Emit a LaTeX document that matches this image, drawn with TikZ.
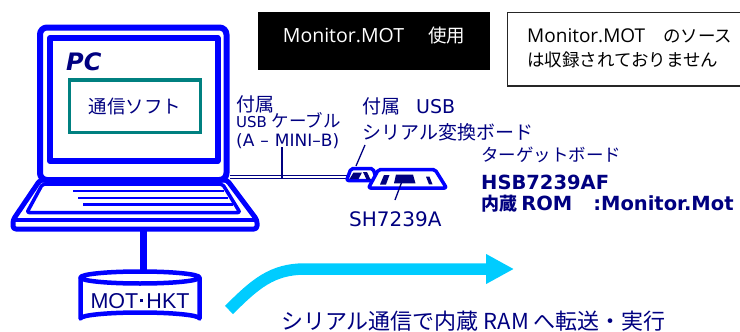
\documentclass[tikz,border=0pt]{standalone}
\usepackage{fontspec}
\usetikzlibrary{arrows.meta}
\setmainfont{DejaVu Sans}
\newfontfamily\jp{Noto Sans CJK JP}
\newfontfamily\dv{DejaVu Sans}
\newfontfamily\os{Open Sans}
\newfontfamily\ls{Liberation Sans}
\newcommand\setfs[1]{\fontsize{#1pt}{#1pt}\selectfont}

\definecolor{lapblue}{RGB}{0,0,255}
\definecolor{navy}{RGB}{0,0,128}
\definecolor{softteal}{RGB}{0,128,128}
\definecolor{flow}{RGB}{0,204,255}

\tikzset{
  frame/.style={draw=lapblue, line width=#1, line join=round},
  chip/.style={fill=navy},
  label/.style={inner sep=0pt, anchor=base west, text=navy},
  pointer/.style={draw=navy, line width=1.3},
  cable/.style={draw=navy, line width=1.3, double=white, double distance=1.8},
  flowarrow/.style={draw=flow, line width=11.5, -{Triangle[length=28pt,width=28pt]}},
}

\begin{document}
\begin{tikzpicture}[x=1pt,y=-1pt]
\useasboundingbox (0,0) rectangle (740,332);

% ---- notes at the top ----
\node[fill=black, minimum width=232pt, minimum height=58pt, anchor=north west, inner sep=0pt] (usedbox) at (258,12) {};
\node[inner sep=0pt, anchor=base, text=white] (usedtxt) at (374,42)
  {\os\setfs{19.5}Monitor.MOT\hspace{24pt}\jp\setfs{18.5}使用};
\draw[black!85, line width=1.3] (507.5,12.5) rectangle (742,86);
\node[inner sep=0pt, anchor=base west] (note1) at (527,42.5)
  {\os\setfs{19}Monitor.MOT\hspace{18pt}\jp\setfs{17.5}のソース};
\node[inner sep=0pt, anchor=base west] (note2) at (527,66)
  {\jp\setfs{17.5}は収録されておりません};

% ---- laptop ----
\draw[frame=6, rounded corners=7] (40,27.5) rectangle (226.5,180);
\draw[frame=6] (50,38) rectangle (217.5,161);
\draw[frame=5, rounded corners=3] (40,180) -- (227,180) -- (257,220) -- (257,229) -- (13,229) -- (13,220) -- cycle;
\draw[frame=4] (13,219.5) -- (257,219.5);
\draw[frame=3.5, rounded corners=2] (42.5,184) -- (222.5,184) -- (240,212.5) -- (27,212.5) -- cycle;
\draw[frame=2.5] (73,191) -- (223.5,191);
\draw[frame=2.5] (78,197.8) -- (228,197.8);
\draw[frame=2.5] (83,204.5) -- (233,204.5);

\node[inner sep=0pt, anchor=base west, text=navy] (pc) at (66,70)
  {\dv\bfseries\itshape\setfs{24}PC};
\node[draw=softteal, line width=2.5, fill=white, minimum width=131pt, minimum height=52pt,
      inner sep=0pt, text=navy, font=\jp\setfs{18.5}] (soft) at (135,106.5) {通信ソフト};
\draw[softteal, line width=4] ([yshift=-0.8pt]soft.north west) -- ([yshift=-0.8pt]soft.north east);

% ---- storage ----
\coordinate (pcfoot) at (143.5,231);
\coordinate (disktop) at (143.5,271.5);
\draw[lapblue, line width=7] (pcfoot) -- (disktop);
\draw[frame=4.5, fill=white] (80.5,277.5) -- (80.5,318.5) arc[start angle=180, end angle=360, x radius=59.5, y radius=6] -- (199.5,277.5);
\draw[frame=4.5, fill=white] (140,277.5) ellipse[x radius=59.5, y radius=6];
\node[inner sep=0pt, anchor=base, text=navy] (disk) at (140,308)
  {\ls\setfs{21.5}MOT\hspace{2.2pt}\rule[6pt]{2.8pt}{2.8pt}\hspace{3.2pt}HKT};

% ---- USB cable and boards ----
\coordinate (cableL) at (229.5,177);
\coordinate (cableR) at (347,177);
\draw[cable] (cableL) -- (cableR);
\coordinate (cabletag) at (282,147);
\draw[pointer] (cabletag) -- (cabletag |- 0,179);

% serial converter board
\draw[frame=3.5, fill=white, rounded corners=2] (351,168.5) -- (373,168.5) -- (377,180.5) -- (346.5,180.5) -- cycle;
\fill[chip] (349.5,179) -- (353.5,172.5) -- (362,172.5) -- (358.5,179) -- cycle;
\fill[chip] (363,172) -- (367,172) -- (370.5,179.5) -- (366.5,179.5) -- cycle;
% target board
\draw[frame=3.5, fill=white, rounded corners=2] (378.5,169.5) -- (435,169.5) -- (446.5,188) -- (368.5,188) -- cycle;
\fill[chip] (380,184.5) -- (384,175) -- (389.5,175) -- (386,184.5) -- cycle;
\fill[chip] (394,183.3) -- (396,174.5) -- (413,174.5) -- (415.5,183.3) -- cycle;
\fill[chip] (426,176.7) -- (429.5,176.7) -- (432.5,184.3) -- (429,184.3) -- cycle;

\coordinate (convtag) at (365,145);
\coordinate (convpt) at (356,166);
\draw[pointer] (convtag) -- (convpt);
\coordinate (chippt) at (402.5,180);
\coordinate (chiptag) at (395,200);
\draw[pointer] (chippt) -- (chiptag);

% ---- labels ----
\node[label] (lcab1) at (236,111) {\jp\setfs{19}付属};
\node[label] (lcab2) at (236,127.3) {\dv\setfs{15}USB \jp\setfs{17.5}ケーブル};
\node[label] (lcab3) at (236,146.5) {\dv\setfs{17}(A\hspace{6pt}–\hspace{6pt}MINI–B)};
\node[label] (lconv1) at (362,113) {\jp\setfs{19}付属\hspace{16pt}\dv USB};
\node[label] (lconv2) at (362,139) {\jp\setfs{19}シリアル変換ボード};
\node[label] (ltgt1) at (481,161) {\jp\setfs{17.5}ターゲットボード};
\node[label] (ltgt2) at (481,189) {\dv\bfseries\setfs{19.5}HSB7239AF};
\node[label] (ltgt3) at (481,210) {\jp\bfseries\setfs{18}内蔵 \dv\setfs{19.5}ROM\hspace{21pt}:Monitor.Mot};
\node[label] (lchip) at (349,226.5) {\dv\setfs{20}SH7239A};

% ---- transfer arrow ----
\coordinate (flowstart) at (229,310);
\coordinate (flowend) at (514,269);
\draw[flowarrow] (flowstart) .. controls (255,284) and (272,269) .. (305,269) -- (flowend);
\node[label] (lflow) at (281,329) {\jp\setfs{22}シリアル通信で内蔵 RAM へ転送・実行};
\end{tikzpicture}
\end{document}
